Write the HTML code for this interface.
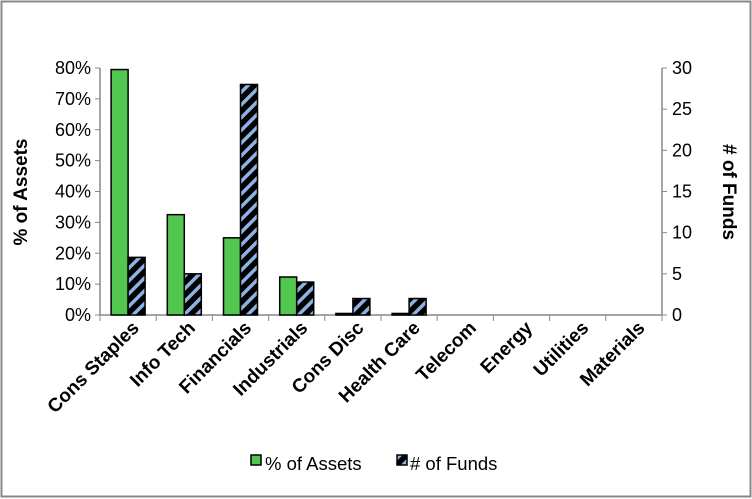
<!DOCTYPE html>
<html><head><meta charset="utf-8"><style>
body{margin:0;background:#fff}
svg{display:block;font-family:"Liberation Sans",Arial,sans-serif}
</style></head><body>
<svg width="752" height="499" viewBox="0 0 752 499">
<defs>
<pattern id="hatch" patternUnits="userSpaceOnUse" width="9" height="9" patternTransform="rotate(45)">
<rect width="9" height="9" fill="#000"/><rect x="0" y="0" width="3.5" height="9" fill="#8db3e2"/>
</pattern>
</defs>
<rect x="1.5" y="1.5" width="749" height="495" fill="#fff" stroke="#888" stroke-width="2"/>
<g id="plot"></g>
<text transform="translate(27,192) rotate(-90)" text-anchor="middle" font-size="19" font-weight="bold">% of Assets</text>
<text transform="translate(723,192) rotate(90)" text-anchor="middle" font-size="19" font-weight="bold"># of Funds</text>
<g>
<rect x="251" y="455" width="10" height="10" fill="#53c650" stroke="#000" stroke-width="1.5"/>
<text x="265" y="470" font-size="18.5">% of Assets</text>
<rect x="397" y="455" width="10" height="10" fill="url(#hatch)" stroke="#000" stroke-width="1.5"/>
<text x="410" y="470" font-size="18.5"># of Funds</text>
</g>
</svg>
<script>
const categories=["Cons Staples","Info Tech","Financials","Industrials","Cons Disc","Health Care","Telecom","Energy","Utilities","Materials"];
const assets=[79.5,32.5,25,12.3,0.5,0.5,0,0,0,0];
const funds=[7,5,28,4,2,2,0,0,0,0];
const leftTicks=[0,10,20,30,40,50,60,70,80];
const rightTicks=[0,5,10,15,20,25,30];
const NS="http://www.w3.org/2000/svg";
const g=document.getElementById('plot');
const x0=100,x1=662,y0=315,y1=68;
const step=(x1-x0)/categories.length;
const yL=v=>y0-(v/80)*(y0-y1);
const yR=v=>y0-(v/30)*(y0-y1);
function mk(t,a){const e=document.createElementNS(NS,t);for(const k in a)e.setAttribute(k,a[k]);g.appendChild(e);return e;}
let e;
e=mk('line',{x1:x0,y1:y1,x2:x0,y2:y0,stroke:'#888','stroke-width':1.5});


e=mk('line',{x1:x1,y1:y1,x2:x1,y2:y0,stroke:'#888','stroke-width':1.5});


e=mk('line',{x1:x0,y1:y0,x2:x1,y2:y0,stroke:'#888','stroke-width':1.5});


leftTicks.forEach(v=>{const y=yL(v);
mk('line',{x1:x0-5,y1:y,x2:x0,y2:y,stroke:'#888'});
e=mk('text',{x:x0-9,y:y+6,'text-anchor':'end','font-size':18});e.textContent=v+'%';

});
rightTicks.forEach(v=>{const y=yR(v);
mk('line',{x1:x1,y1:y,x2:x1+5,y2:y,stroke:'#888'});
e=mk('text',{x:x1+10,y:y+6,'text-anchor':'start','font-size':18});e.textContent=v;

});
for(let i=0;i<=categories.length;i++){mk('line',{x1:x0+i*step,y1:y0,x2:x0+i*step,y2:y0+6,stroke:'#888'});}
categories.forEach((c,i)=>{const cx=x0+(i+0.5)*step;const bw=17;
if(assets[i]>0){e=mk('rect',{x:cx-bw,y:yL(assets[i]),width:bw,height:y0-yL(assets[i]),fill:'#53c650',stroke:'#000','stroke-width':1.5});

}
if(funds[i]>0){e=mk('rect',{x:cx,y:yR(funds[i]),width:bw,height:y0-yR(funds[i]),fill:'url(#hatch)',stroke:'#000','stroke-width':1.5});

}
e=mk('text',{transform:`translate(${cx+12},${y0+14}) rotate(-45)`,'text-anchor':'end','font-size':19,'font-weight':'bold'});e.textContent=c;


});
</script>
</body></html>
